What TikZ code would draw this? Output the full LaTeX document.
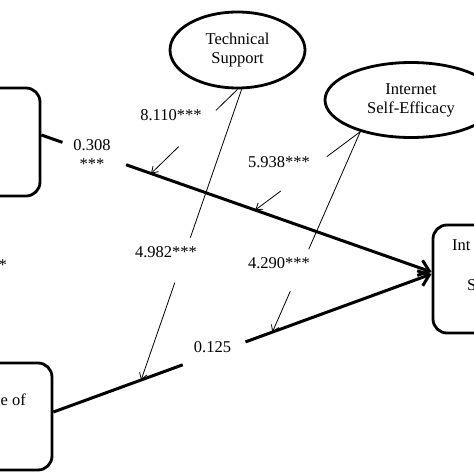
\documentclass[tikz,border=0pt]{standalone}
\usepackage{fontspec}
\setmainfont{Liberation Serif}
\usetikzlibrary{shapes.geometric,arrows.meta,calc}
\begin{document}
\begin{tikzpicture}[x=1pt,y=-1pt,
	every node/.style={font=\fontsize{16.5}{19}\selectfont},
	box/.style={draw,line width=2.8pt,rounded corners=14pt},
	oval/.style={draw,ellipse,line width=2.8pt,align=center,inner sep=0pt},
	effect/.style={line width=3pt},
	mod/.style={line width=0.8pt},
	modarrow/.style={-{Straight Barb[length=6pt,width=8pt]}},
	lab/.style={align=center,inner sep=0pt}]
	\useasboundingbox (0,0) rectangle (474,474);
	\clip (0,0) rectangle (474,474);
	\fill[white] (0,0) rectangle (474,474);
	% constructs
	\node[box,minimum width=110pt,minimum height=108pt] (ctx) at (-15,142) {};
	\node[box,minimum width=110pt,minimum height=107pt] (ease) at (-3,416.5) {};
	\node[box,minimum width=110pt,minimum height=108pt] (intent) at (488,279) {};
	\node[anchor=base east,inner sep=0pt] (easetxt) at (26,405) {e of};
	\node[anchor=base west,inner sep=0pt] (inttxt) at (452,250) {Int};
	\node[anchor=base west,inner sep=0pt] (intS) at (467,290) {S};
	\node[anchor=base east,inner sep=0pt] (corr) at (7,270) {*};
	\node[oval,minimum width=135pt,minimum height=76pt] (tech) at (237.5,50) {Technical\\Support};
	\node[oval,minimum width=172pt,minimum height=75pt] (ise) at (411,100) {Internet\\Self-Efficacy};
	% main paths
	\coordinate (sA) at ($(ctx.east)+(0,-7)$);
	\coordinate (eA) at ($(intent.west)+(0,-7)$);
	\coordinate (sB) at ($(ease.east)+(0,-4.5)$);
	\coordinate (eB) at ($(intent.west)+(0,-5)$);
	\draw[effect] (sA) -- ($(sA)!.054!(eA)$);
	\draw[effect,-{Straight Barb[length=10pt,width=16pt]}] ($(sA)!.217!(eA)$) -- (eA);
	\draw[effect] (sB) -- ($(sB)!.342!(eB)$);
	\draw[effect,-{Straight Barb[length=10pt,width=16pt]}] ($(sB)!.508!(eB)$) -- (eB);
	\node[lab] (pA) at (92,155) {0.308\\***};
	\node[lab,anchor=base] (pB) at (212.5,352.5) {0.125};
	% moderators
	\coordinate (hA1) at ($(sA)!.281!(eA)$);
	\coordinate (hA2) at ($(sA)!.548!(eA)$);
	\coordinate (hB1) at ($(sB)!.232!(eB)$);
	\coordinate (hB2) at ($(sB)!.579!(eB)$);
	\foreach \src/\dst/\a/\b in {tech.south/hA1/.25/.68,tech.-84/hB1/.51/.665,ise.212/hA2/.318/.757,ise.212/hB2/.587/.796}
	{
		\draw[mod] (\src) -- ($(\src)!\a!(\dst)$);
		\draw[mod,modarrow] ($(\src)!\b!(\dst)$) -- (\dst);
	}
	\node[lab,anchor=base] (mA1) at (171,120.5) {8.110***};
	\node[lab,anchor=base] (mB1) at (166,257.5) {4.982***};
	\node[lab,anchor=base] (mA2) at (279,167.5) {5.938***};
	\node[lab,anchor=base] (mB2) at (279,268.5) {4.290***};
\end{tikzpicture}
\end{document}
